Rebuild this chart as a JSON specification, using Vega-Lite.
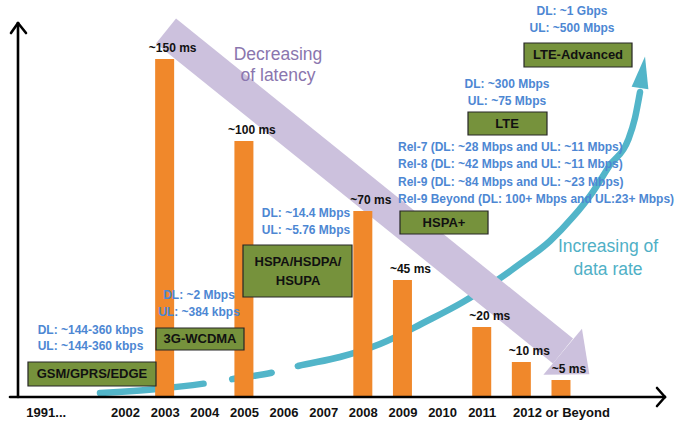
{
  "$schema": "https://vega.github.io/schema/vega-lite/v6.json",
  "width": 650,
  "height": 377,
  "autosize": {"type": "none"},
  "padding": {"left": 18, "top": 20, "right": 11, "bottom": 28},
  "background": "white",
  "config": {"view": {"stroke": null}, "font": "Liberation Sans"},
  "datasets": {
    "bars": [
      {"period": "2003", "latency": 150, "label": "~150 ms"},
      {"period": "2005", "latency": 100, "label": "~100 ms"},
      {"period": "2008", "latency": 70, "label": "~70 ms"},
      {"period": "2009", "latency": 45, "label": "~45 ms"},
      {"period": "2011", "latency": 20, "label": "~20 ms"},
      {"period": "2012", "latency": 10, "label": "~10 ms"},
      {"period": "Beyond", "latency": 5, "label": "~5 ms"}
    ],
    "curve": [
      {"sx": 1.369, "sy": 1.06}, {"sx": 2.807, "sy": 2.12}, {"sx": 4.094, "sy": 3.71},
      {"sx": 4.725, "sy": 4.77}, {"sx": 5.785, "sy": 6.63}, {"sx": 6.365, "sy": 8.22},
      {"sx": 7.424, "sy": 10.61}, {"sx": 8.434, "sy": 14.06}, {"sx": 9.569, "sy": 19.89},
      {"sx": 10.528, "sy": 25.2}, {"sx": 11.285, "sy": 30.24}, {"sx": 11.966, "sy": 35.28},
      {"sx": 12.723, "sy": 41.38}, {"sx": 13.303, "sy": 47.75}, {"sx": 13.783, "sy": 54.11},
      {"sx": 14.237, "sy": 61.54}, {"sx": 14.694, "sy": 68.17}, {"sx": 14.867, "sy": 74.01},
      {"sx": 14.994, "sy": 80.9}
    ],
    "shaft": [{"sx": 3.034, "sy": 97.08, "sx2": 13.051, "sy2": 12.2}],
    "purpleHead": [{"sx": 13.379, "sy": 9.02}],
    "tealHead": [{"sx": 15.057, "sy": 86.15}],
    "axes": [
      {"sx": -0.902, "sy": 0, "sx2": 15.624, "sy2": 0},
      {"sx": 15.423, "sy": 2.39, "sx2": 15.624, "sy2": 0},
      {"sx": 15.423, "sy": -2.39, "sx2": 15.624, "sy2": 0},
      {"sx": -0.7, "sy": 0, "sx2": -0.7, "sy2": 99.2},
      {"sx": -0.877, "sy": 96.55, "sx2": -0.7, "sy2": 99.2},
      {"sx": -0.498, "sy": 96.55, "sx2": -0.7, "sy2": 99.2}
    ],
    "boxes": [
      {"name": "GSM/GPRS/EDGE", "sx": -0.448, "sx2": 2.782, "sy": 2.92, "sy2": 9.28},
      {"name": "3G-WCDMA", "sx": 2.782, "sx2": 5.002, "sy": 12.47, "sy2": 18.3},
      {"name": "HSPA/HSDPA/HSUPA", "sx": 4.977, "sx2": 7.727, "sy": 26.53, "sy2": 40.32},
      {"name": "HSPA+", "sx": 8.938, "sx2": 11.159, "sy": 43.24, "sy2": 49.34},
      {"name": "LTE", "sx": 10.654, "sx2": 12.647, "sy": 69.5, "sy2": 75.6},
      {"name": "LTE-Advanced", "sx": 12.067, "sx2": 14.792, "sy": 87.53, "sy2": 93.9}
    ],
    "boxLabels": [
      {"text": "GSM/GPRS/EDGE", "sx": 1.167, "sy": 6.1},
      {"text": "3G-WCDMA", "sx": 3.893, "sy": 15.38},
      {"text": "HSPA/HSDPA/", "sx": 6.365, "sy": 35.81},
      {"text": "HSUPA", "sx": 6.365, "sy": 30.77},
      {"text": "HSPA+", "sx": 10.048, "sy": 46.15},
      {"text": "LTE", "sx": 11.638, "sy": 72.41},
      {"text": "LTE-Advanced", "sx": 13.43, "sy": 90.72}
    ],
    "rates": [
      {"text": "DL: ~144-360 kbps", "sx": 1.129, "sy": 17.77},
      {"text": "UL: ~144-360 kbps", "sx": 1.129, "sy": 13.53},
      {"text": "DL: ~2 Mbps", "sx": 3.867, "sy": 27.06},
      {"text": "UL: ~384 kbps", "sx": 3.867, "sy": 22.55},
      {"text": "DL: ~14.4 Mbps", "sx": 6.567, "sy": 48.81},
      {"text": "UL: ~5.76 Mbps", "sx": 6.567, "sy": 44.3},
      {"text": "DL: ~300 Mbps", "sx": 11.638, "sy": 83.02},
      {"text": "UL: ~75 Mbps", "sx": 11.638, "sy": 78.51},
      {"text": "DL: ~1 Gbps", "sx": 13.278, "sy": 102.39},
      {"text": "UL: ~500 Mbps", "sx": 13.278, "sy": 97.88}
    ],
    "releases": [
      {"text": "Rel-7 (DL: ~28 Mbps and UL: ~11 Mbps)", "sx": 8.888, "sy": 66.31},
      {"text": "Rel-8 (DL: ~42 Mbps and UL: ~11 Mbps)", "sx": 8.888, "sy": 61.8},
      {"text": "Rel-9 (DL: ~84 Mbps and UL: ~23 Mbps)", "sx": 8.888, "sy": 57.03},
      {"text": "Rel-9 Beyond (DL: 100+ Mbps and UL:23+ Mbps)", "sx": 8.888, "sy": 52.52}
    ],
    "latencyCaption": [
      {"text": "Decreasing", "sx": 5.86, "sy": 90.72},
      {"text": "of latency", "sx": 5.86, "sy": 85.15}
    ],
    "rateCaption": [
      {"text": "Increasing of", "sx": 14.187, "sy": 39.79},
      {"text": "data rate", "sx": 14.187, "sy": 33.69}
    ]
  },
  "layer": [
    {
      "encoding": {
        "x": {"field": "sx", "type": "quantitative", "scale": {"domain": [-0.7, 15.7], "nice": false, "zero": false}, "axis": null},
        "y": {"field": "sy", "type": "quantitative", "scale": {"domain": [0, 100], "nice": false, "zero": false}, "axis": null}
      },
      "layer": [
        {
          "data": {"name": "curve"},
          "mark": {"type": "line", "interpolate": "monotone", "color": "#52b5c9", "strokeWidth": 6.5, "strokeCap": "round", "strokeDash": [104, 29, 40, 27, 3000, 0]},
          "encoding": {}
        },
        {
          "data": {"name": "tealHead"},
          "mark": {"type": "point", "shape": "M-1,-0.53L1,0L-1,0.53Z", "size": 1024, "angle": -81, "filled": true, "color": "#52b5c9", "opacity": 1, "strokeWidth": 0}
        },
        {
          "data": {"name": "shaft"},
          "mark": {"type": "rule", "color": "#ccc1dd", "strokeWidth": 32, "strokeCap": "butt"},
          "encoding": {"x2": {"field": "sx2"}, "y2": {"field": "sy2"}}
        },
        {
          "data": {"name": "purpleHead"},
          "mark": {"type": "point", "shape": "M-0.58,-1L0.58,0L-0.58,1Z", "size": 3600, "angle": 40, "filled": true, "color": "#ccc1dd", "opacity": 1, "strokeWidth": 0}
        }
      ]
    },
    {
      "data": {"name": "bars"},
      "encoding": {
        "x": {
          "field": "period", "type": "ordinal",
          "scale": {"type": "point", "padding": 0.7, "domain": ["1991...", "gap", "2002", "2003", "2004", "2005", "2006", "2007", "2008", "2009", "2010", "2011", "2012", "Beyond", "end1", "end2"]},
          "axis": {
            "title": null, "domain": false, "ticks": false, "tickSize": 0, "labelAngle": 0,
            "labelFont": "Liberation Sans", "labelFontWeight": "bold", "labelFontSize": 13, "labelColor": "#111111",
            "labelPadding": 9, "grid": false,
            "labelExpr": "datum.value == 'Beyond' ? '2012 or Beyond' : (datum.value == '2012' || datum.value == 'gap' || datum.value == 'end1' || datum.value == 'end2') ? '' : datum.value"
          }
        },
        "y": {
          "field": "latency", "type": "quantitative",
          "scale": {"domain": [0, 5, 10, 20, 45, 70, 100, 150, 174], "range": [377, 360, 342, 307, 260, 191, 121, 39, 0], "nice": false, "zero": false},
          "axis": null
        }
      },
      "layer": [
        {"mark": {"type": "bar", "width": 19, "color": "#f0882b"}},
        {
          "mark": {"type": "text", "font": "Liberation Sans", "fontWeight": "bold", "fontSize": 12, "color": "#111111", "baseline": "alphabetic", "dy": -7, "dx": 8},
          "encoding": {"text": {"field": "label"}}
        }
      ]
    },
    {
      "encoding": {
        "x": {"field": "sx", "type": "quantitative", "scale": {"domain": [-0.7, 15.7], "nice": false, "zero": false}, "axis": null},
        "y": {"field": "sy", "type": "quantitative", "scale": {"domain": [0, 100], "nice": false, "zero": false}, "axis": null}
      },
      "layer": [
        {
          "data": {"name": "boxes"},
          "mark": {"type": "rect", "fill": "#76923c", "stroke": "#262626", "strokeWidth": 1.2},
          "encoding": {"x2": {"field": "sx2"}, "y2": {"field": "sy2"}}
        },
        {
          "data": {"name": "boxLabels"},
          "mark": {"type": "text", "font": "Liberation Sans", "fontWeight": "bold", "fontSize": 13, "color": "#111111", "baseline": "middle", "align": "center"},
          "encoding": {"text": {"field": "text"}}
        },
        {
          "data": {"name": "rates"},
          "mark": {"type": "text", "font": "Liberation Sans", "fontWeight": "bold", "fontSize": 12, "color": "#4d87d3", "baseline": "middle", "align": "center"},
          "encoding": {"text": {"field": "text"}}
        },
        {
          "data": {"name": "releases"},
          "mark": {"type": "text", "font": "Liberation Sans", "fontWeight": "bold", "fontSize": 12, "color": "#4d87d3", "baseline": "middle", "align": "left"},
          "encoding": {"text": {"field": "text"}}
        },
        {
          "data": {"name": "latencyCaption"},
          "mark": {"type": "text", "font": "Liberation Sans", "fontSize": 17.5, "color": "#8a76ae", "baseline": "middle", "align": "center"},
          "encoding": {"text": {"field": "text"}}
        },
        {
          "data": {"name": "rateCaption"},
          "mark": {"type": "text", "font": "Liberation Sans", "fontSize": 17.5, "color": "#4fb0c6", "baseline": "middle", "align": "center"},
          "encoding": {"text": {"field": "text"}}
        },
        {
          "data": {"name": "axes"},
          "mark": {"type": "rule", "color": "#000000", "strokeWidth": 2.6, "strokeCap": "round"},
          "encoding": {"x2": {"field": "sx2"}, "y2": {"field": "sy2"}}
        }
      ]
    }
  ],
  "resolve": {"scale": {"x": "independent", "y": "independent"}, "axis": {"x": "independent", "y": "independent"}}
}
